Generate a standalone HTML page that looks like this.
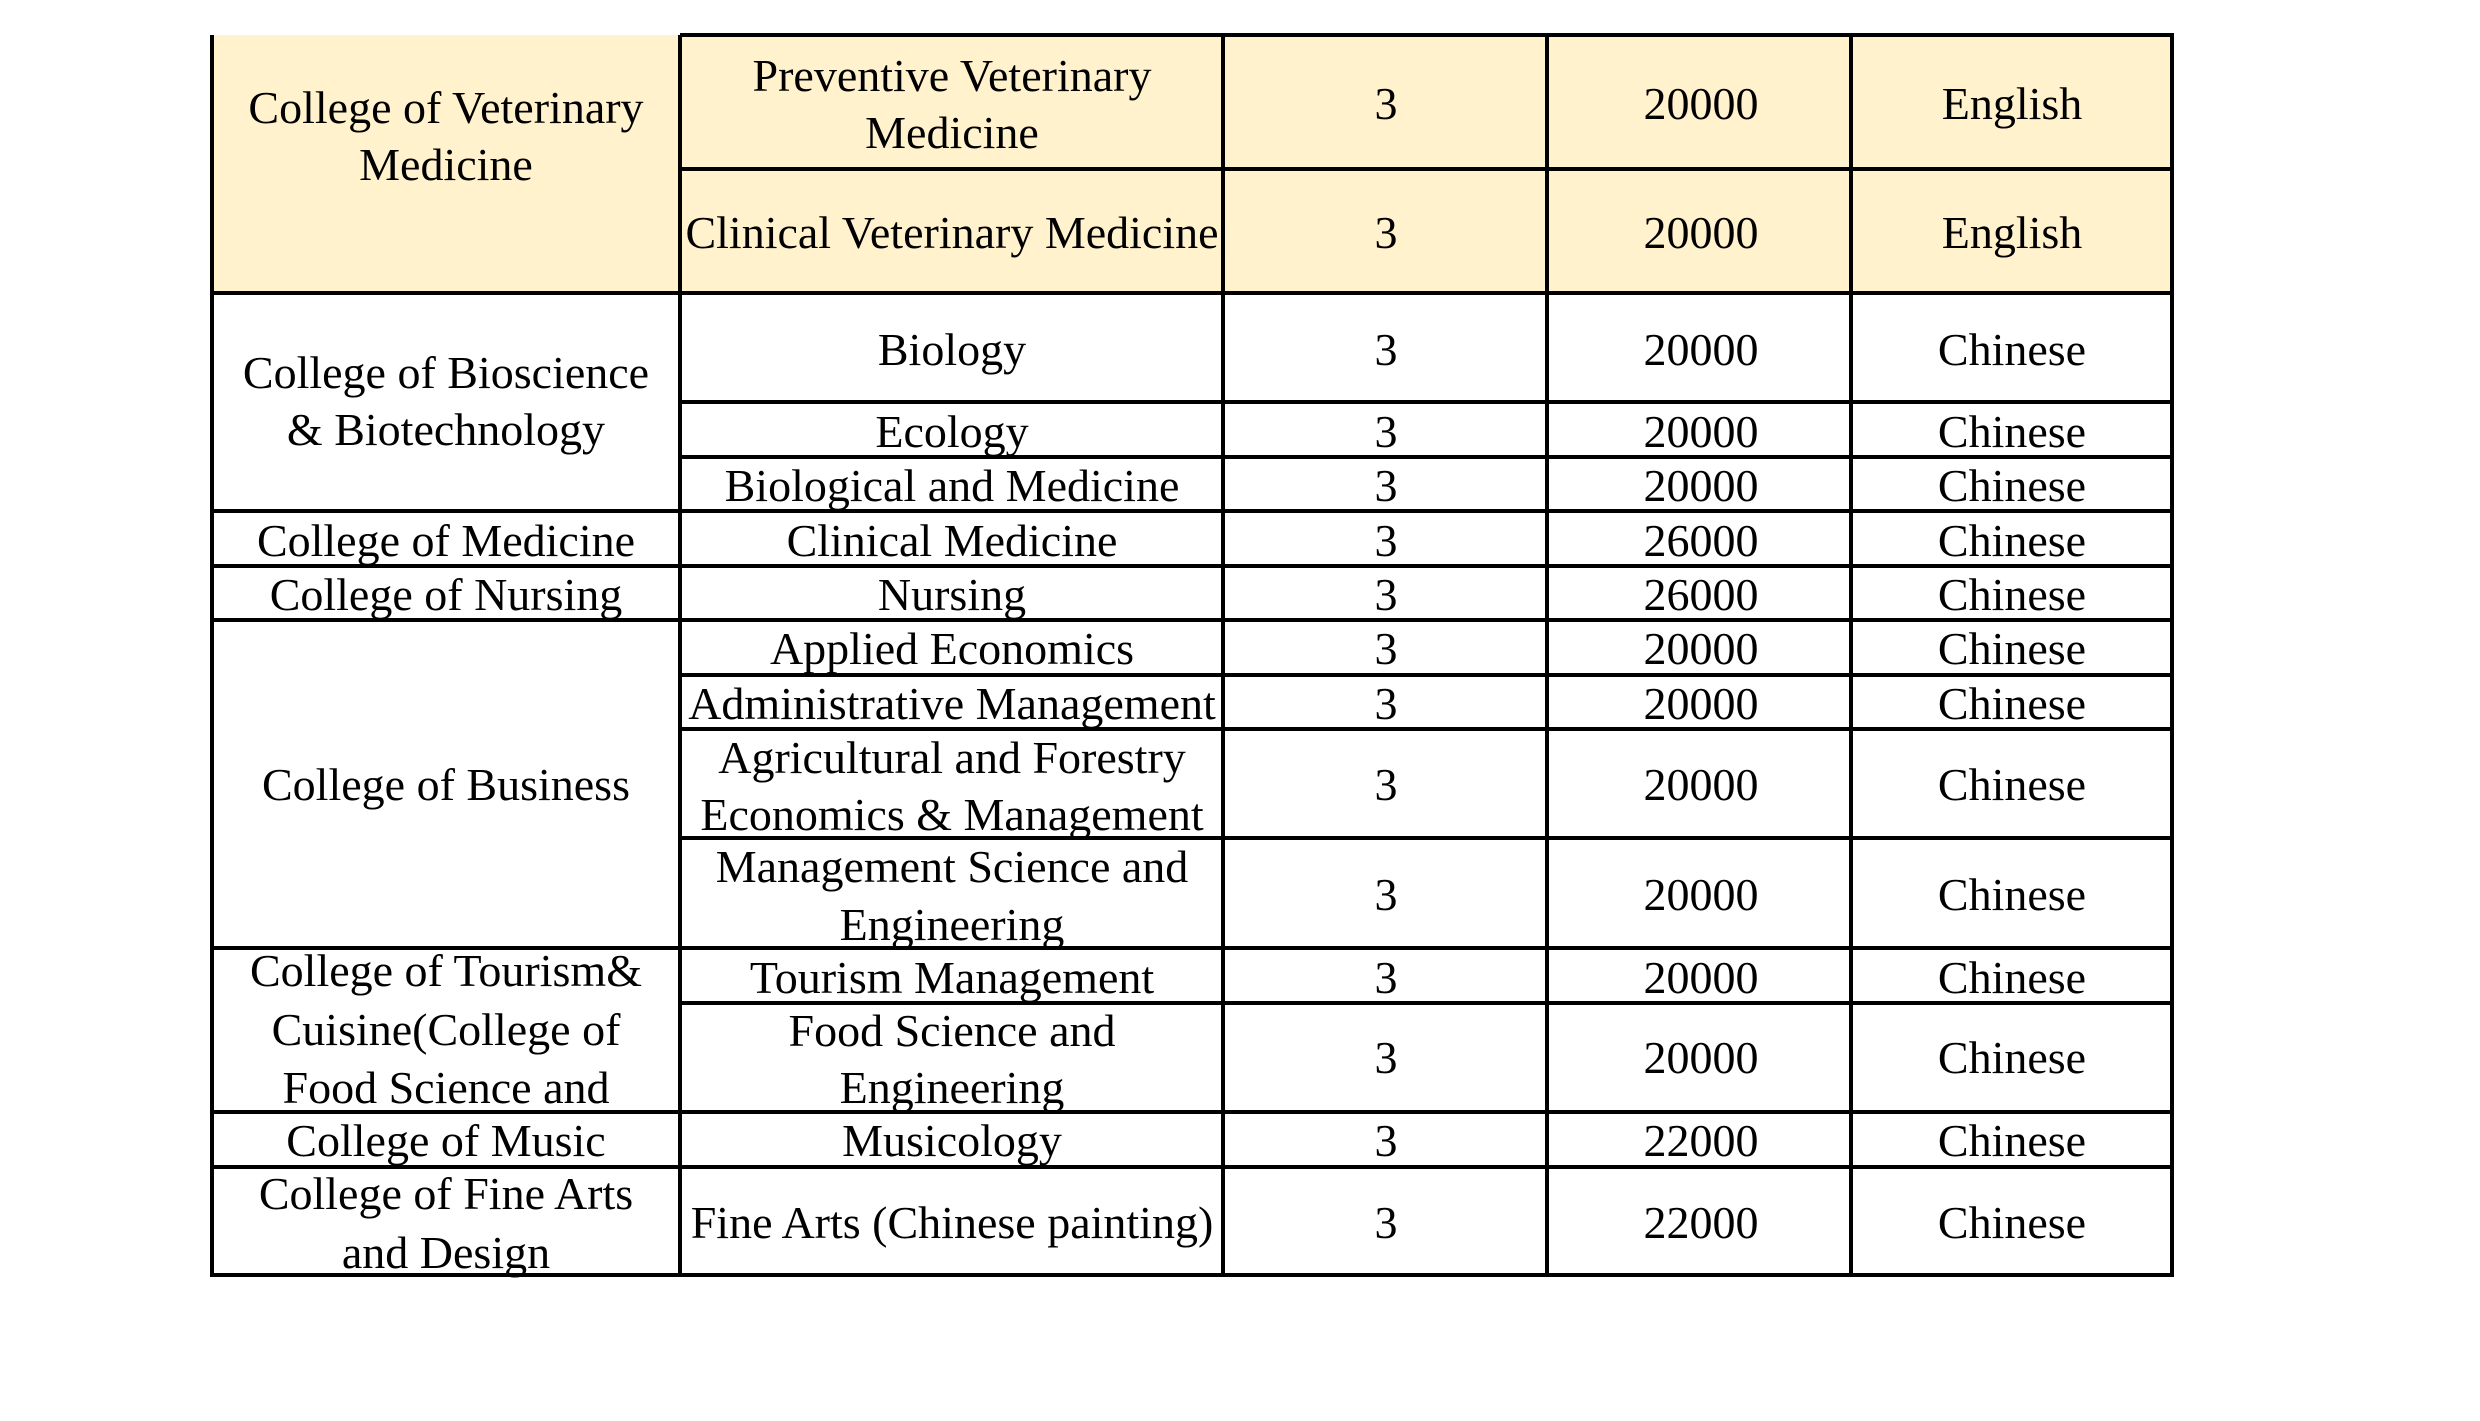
<!DOCTYPE html>
<html><head><meta charset="utf-8"><style>
html,body{margin:0;padding:0;background:#fff;}
svg{display:block;}
text{font-family:"Liberation Serif",serif;font-size:46px;fill:#000;text-anchor:middle;}
</style></head><body>
<svg width="2480" height="1421" viewBox="0 0 2480 1421" xmlns="http://www.w3.org/2000/svg">
<rect x="0" y="0" width="2480" height="1421" fill="#fff"/>
<rect x="212" y="35" width="1960" height="258" fill="#fff2cc"/>
<g>
<text x="446" y="123">College of Veterinary</text>
<text x="446" y="180">Medicine</text>
<text x="446" y="388">College of Bioscience</text>
<text x="446" y="445">&amp; Biotechnology</text>
<text x="446" y="556">College of Medicine</text>
<text x="446" y="610">College of Nursing</text>
<text x="446" y="800">College of Business</text>
<text x="446" y="986">College of Tourism&amp;</text>
<text x="446" y="1045">Cuisine(College of</text>
<text x="446" y="1103">Food Science and</text>
<text x="446" y="1156">College of Music</text>
<text x="446" y="1209">College of Fine Arts</text>
<text x="446" y="1268">and Design</text>

<text x="952" y="91">Preventive Veterinary</text>
<text x="952" y="148">Medicine</text>
<text x="952" y="248">Clinical Veterinary Medicine</text>
<text x="952" y="365">Biology</text>
<text x="952" y="447">Ecology</text>
<text x="952" y="501">Biological and Medicine</text>
<text x="952" y="556">Clinical Medicine</text>
<text x="952" y="610">Nursing</text>
<text x="952" y="664">Applied Economics</text>
<text x="952" y="719">Administrative Management</text>
<text x="952" y="773">Agricultural and Forestry</text>
<text x="952" y="830">Economics &amp; Management</text>
<text x="952" y="882">Management Science and</text>
<text x="952" y="940">Engineering</text>
<text x="952" y="993">Tourism Management</text>
<text x="952" y="1046">Food Science and</text>
<text x="952" y="1103">Engineering</text>
<text x="952" y="1156">Musicology</text>
<text x="952" y="1238">Fine Arts (Chinese painting)</text>
</g>
<g>
<text x="1386" y="119">3</text><text x="1701" y="119">20000</text><text x="2012" y="119">English</text>
<text x="1386" y="248">3</text><text x="1701" y="248">20000</text><text x="2012" y="248">English</text>
<text x="1386" y="365">3</text><text x="1701" y="365">20000</text><text x="2012" y="365">Chinese</text>
<text x="1386" y="447">3</text><text x="1701" y="447">20000</text><text x="2012" y="447">Chinese</text>
<text x="1386" y="501">3</text><text x="1701" y="501">20000</text><text x="2012" y="501">Chinese</text>
<text x="1386" y="556">3</text><text x="1701" y="556">26000</text><text x="2012" y="556">Chinese</text>
<text x="1386" y="610">3</text><text x="1701" y="610">26000</text><text x="2012" y="610">Chinese</text>
<text x="1386" y="664">3</text><text x="1701" y="664">20000</text><text x="2012" y="664">Chinese</text>
<text x="1386" y="719">3</text><text x="1701" y="719">20000</text><text x="2012" y="719">Chinese</text>
<text x="1386" y="800">3</text><text x="1701" y="800">20000</text><text x="2012" y="800">Chinese</text>
<text x="1386" y="910">3</text><text x="1701" y="910">20000</text><text x="2012" y="910">Chinese</text>
<text x="1386" y="993">3</text><text x="1701" y="993">20000</text><text x="2012" y="993">Chinese</text>
<text x="1386" y="1073">3</text><text x="1701" y="1073">20000</text><text x="2012" y="1073">Chinese</text>
<text x="1386" y="1156">3</text><text x="1701" y="1156">22000</text><text x="2012" y="1156">Chinese</text>
<text x="1386" y="1238">3</text><text x="1701" y="1238">22000</text><text x="2012" y="1238">Chinese</text>
</g>
<g stroke="#000" stroke-width="4" fill="none">
<!-- vertical -->
<line x1="212" y1="35" x2="212" y2="1277"/>
<line x1="680" y1="35" x2="680" y2="1277"/>
<line x1="1223" y1="35" x2="1223" y2="1277"/>
<line x1="1547" y1="35" x2="1547" y2="1277"/>
<line x1="1851" y1="35" x2="1851" y2="1277"/>
<line x1="2172" y1="33" x2="2172" y2="1277"/>
<!-- horizontal full -->
<line x1="680" y1="35" x2="2174" y2="35"/>
<line x1="212" y1="293" x2="2174" y2="293"/>
<line x1="212" y1="511" x2="2174" y2="511"/>
<line x1="212" y1="566" x2="2174" y2="566"/>
<line x1="212" y1="620" x2="2174" y2="620"/>
<line x1="212" y1="948" x2="2174" y2="948"/>
<line x1="212" y1="1112" x2="2174" y2="1112"/>
<line x1="212" y1="1167" x2="2174" y2="1167"/>
<line x1="210" y1="1275" x2="2174" y2="1275"/>
<!-- horizontal partial -->
<line x1="680" y1="169" x2="2174" y2="169"/>
<line x1="680" y1="402" x2="2174" y2="402"/>
<line x1="680" y1="457" x2="2174" y2="457"/>
<line x1="680" y1="675" x2="2174" y2="675"/>
<line x1="680" y1="729" x2="2174" y2="729"/>
<line x1="680" y1="838" x2="2174" y2="838"/>
<line x1="680" y1="1003" x2="2174" y2="1003"/>
</g>
</svg>
</body></html>
